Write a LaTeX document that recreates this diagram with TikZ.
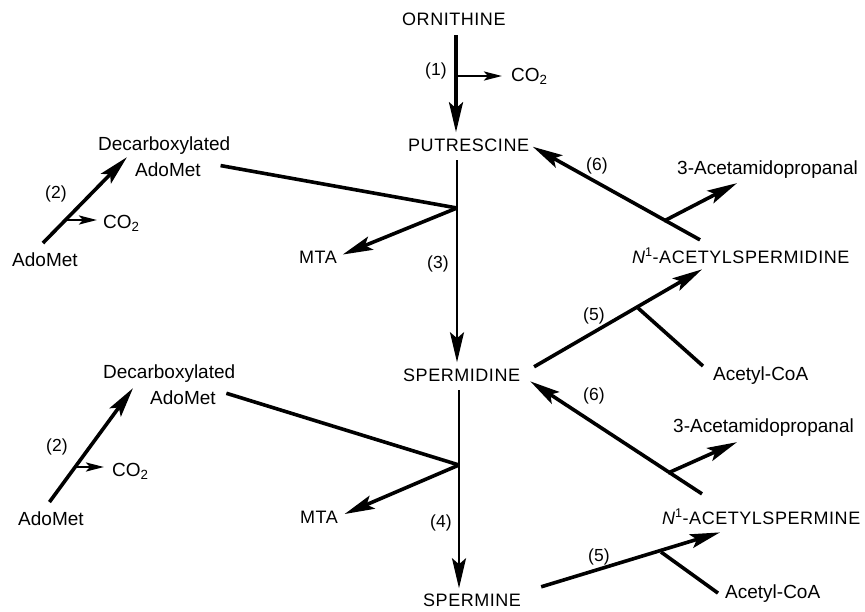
\documentclass[tikz,border=0pt]{standalone}
\usepackage{fontspec}
\setmainfont{Liberation Sans}
\newfontfamily\capsfont[LetterSpace=3]{Liberation Sans}
\usetikzlibrary{arrows.meta}
\begin{document}
\begin{tikzpicture}[x=1pt,y=-1pt,
  every node/.style={inner sep=0pt, anchor=base west},
  lc/.style={font=\fontsize{19}{22}\selectfont},
  uc/.style={font=\fontsize{18}{20}\capsfont},
  num/.style={font=\fontsize{17.5}{20}\selectfont},
  ln/.style={line width=3.6pt},
  thn/.style={line width=2.7pt},
  big/.style={-{Stealth[length=30pt,width=14pt,inset=6pt]}},
  sml/.style={-{Stealth[length=18pt,width=9pt,inset=4pt]}}]
\useasboundingbox (0,0) rectangle (865,611);

% main chain
\node[uc] (orn) at (402,25) {ORNITHINE};
\node[uc] (put) at (408,151) {PUTRESCINE};
\node[uc] (spd) at (403,381) {SPERMIDINE};
\node[uc] (spm) at (423,606) {SPERMINE};
\node[uc] (mta1) at (299,263) {MTA};
\node[uc] (mta2) at (300,523) {MTA};
\node[num] (n1) at (425,75) {(1)};
\node[num] (n3) at (427,268) {(3)};
\node[num] (n4) at (430,527) {(4)};
\node[lc] (co2t) at (511,81) {CO\textsubscript{2}};

% left upper
\node[lc] (dc1) at (98,150) {Decarboxylated};
\node[lc] (dc1b) at (135,176) {AdoMet};
\node[lc] (ado1) at (12,266) {AdoMet};
\node[lc] (co2a) at (103,228) {CO\textsubscript{2}};
\node[num] (n2a) at (45,198) {(2)};

% left lower
\node[lc] (dc2) at (103,378) {Decarboxylated};
\node[lc] (dc2b) at (150,404) {AdoMet};
\node[lc] (ado2) at (18,525) {AdoMet};
\node[lc] (co2b) at (112,476) {CO\textsubscript{2}};
\node[num] (n2b) at (46,451) {(2)};

% right side
\node[lc] (ace1) at (677,174) {3-Acetamidopropanal};
\node[num] (n6a) at (586,170) {(6)};
\node[uc] (nsd) at (632,263) {{\itshape N}\textsuperscript{1}-ACETYLSPERMIDINE};
\node[num] (n5a) at (583,320) {(5)};
\node[lc] (acoa1) at (713,380) {Acetyl-CoA};
\node[num] (n6b) at (583,400) {(6)};
\node[lc] (ace2) at (673,432) {3-Acetamidopropanal};
\node[uc] (nsm) at (662,524) {{\itshape N}\textsuperscript{1}-ACETYLSPERMINE};
\node[num] (n5b) at (588,561) {(5)};
\node[lc] (acoa2) at (725,598) {Acetyl-CoA};

% junctions
\coordinate (j1) at (456,76);
\coordinate (j2) at (457,208);
\coordinate (j3) at (459,465);
\coordinate (j4) at (66,220);
\coordinate (j5) at (76,467);
\coordinate (j6) at (664,221);
\coordinate (j7) at (638,308);
\coordinate (j8) at (668,473);
\coordinate (j9) at (661,552);

% ornithine -> putrescine
\draw[ln,big,shorten <=10pt,shorten >=6pt] (j1 |- orn.south) -- (j1 |- put.north);
\draw[thn,sml,shorten >=9pt] (j1) -- (j1 -| co2t.west);

% putrescine -> spermidine
\draw[thn,big,shorten <=9pt,shorten >=6pt] (j2 |- put.south) -- (j2 |- spd.north);
\draw[ln,shorten <=20pt] (dc1b.north east) -- (j2);
\draw[ln,big,shorten >=6pt] (j2) -- (mta1.east);

% spermidine -> spermine
\draw[thn,big,shorten <=9pt,shorten >=5pt] (j3 |- spd.south) -- (j3 |- spm.north);
\draw[ln,shorten <=11pt] (dc2b.north east) -- (j3);
\draw[ln,big,shorten >=7pt] (j3) -- (mta2.east);

% AdoMet -> decarboxylated AdoMet (upper)
\draw[ln,big] ([xshift=-2pt,yshift=9pt]ado1.north) -- ([xshift=29pt,yshift=-3pt]dc1.south west);
\draw[thn,sml,shorten >=6pt] (j4) -- (j4 -| co2a.west);

% AdoMet -> decarboxylated AdoMet (lower)
\draw[ln,big] ([xshift=-1.5pt,yshift=9pt]ado2.north) -- ([xshift=30pt,yshift=-6pt]dc2.south west);
\draw[thn,sml,shorten >=8pt] (j5) -- (j5 -| co2b.west);

% N1-acetylspermidine -> putrescine (6)
\draw[ln,big,shorten >=4pt] ([xshift=68pt,yshift=8pt]nsd.north west) -- (put.east);
\draw[ln,big] (j6) -- ([xshift=60pt,yshift=-5pt]ace1.south west);

% spermidine -> N1-acetylspermidine (5)
\draw[ln,big,shorten <=16pt] (spd.east) -- ([xshift=70pt,yshift=-6pt]nsd.south west);
\draw[ln] (j7) -- ([xshift=-10pt]acoa1.north west);

% N1-acetylspermine -> spermidine (6)
\draw[ln,big,shorten >=12pt] ([xshift=40pt,yshift=15pt]nsm.north west) -- (spd.east);
\draw[ln,big] (j8) -- ([xshift=64pt,yshift=-6pt]ace2.south west);

% spermine -> N1-acetylspermine (5)
\draw[ln,big] ([xshift=20pt,yshift=13pt]spm.east) -- ([xshift=58pt,yshift=-8pt]nsm.south west);
\draw[ln] (j9) -- ([xshift=-7pt]acoa2.west);
\end{tikzpicture}
\end{document}
